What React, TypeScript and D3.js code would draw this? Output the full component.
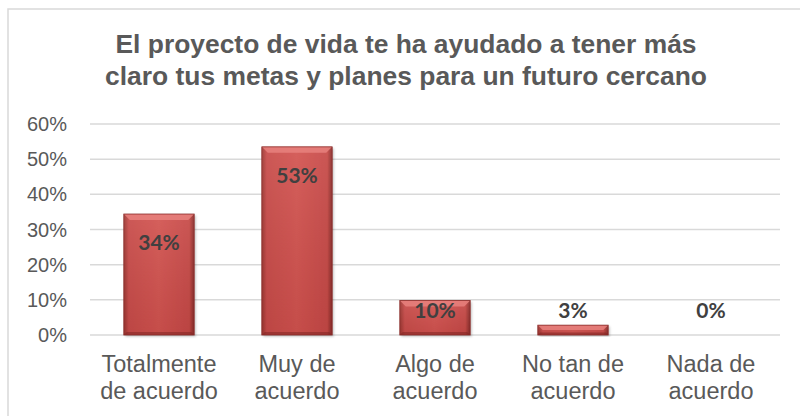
import React from "react";
import * as d3 from "d3";

const categories = [
  ["Totalmente", "de acuerdo"],
  ["Muy de", "acuerdo"],
  ["Algo de", "acuerdo"],
  ["No tan de", "acuerdo"],
  ["Nada de", "acuerdo"],
];
const values = [0.344, 0.535, 0.098, 0.028, 0.0];
const valueLabels = ["34%", "53%", "10%", "3%", "0%"];
const yTicks = [0, 0.1, 0.2, 0.3, 0.4, 0.5, 0.6];
const titleLines = [
  "El proyecto de vida te ha ayudado a tener más",
  "claro tus metas y planes para un futuro cercano",
];

const W = 800;
const H = 416;

export default function App() {
  const x = d3
    .scaleBand<number>()
    .domain(values.map((_, i) => i))
    .range([90, 780])
    .paddingInner(0.49)
    .paddingOuter(0.245);
  const y = d3.scaleLinear().domain([0, 0.6]).range([335, 124]);
  const bw = x.bandwidth();
  const fmt = d3.format(".0%");
  const bev = 6;

  return (
    <svg
      width={W}
      height={H}
      style={{ position: "absolute", left: 0, top: 0, background: "#fff" }}
    >
      <defs>
        <linearGradient id="barH" x1="0" x2="1" y1="0" y2="0">
          <stop offset="0" stopColor="#9a3431" />
          <stop offset="0.07" stopColor="#c84b48" />
          <stop offset="0.5" stopColor="#d2524f" />
          <stop offset="0.93" stopColor="#c64845" />
          <stop offset="1" stopColor="#872b29" />
        </linearGradient>
        <linearGradient id="barV" x1="0" x2="0" y1="0" y2="1">
          <stop offset="0" stopColor="#ffffff" stopOpacity="0.08" />
          <stop offset="1" stopColor="#000000" stopOpacity="0.06" />
        </linearGradient>
        <filter id="shadow" x="-20%" y="-20%" width="140%" height="140%">
          <feDropShadow dx="1.5" dy="1.5" stdDeviation="1.2" floodColor="#000" floodOpacity="0.25" />
        </filter>
      </defs>

      <rect x={8} y={9} width={810} height={430} fill="#fff" stroke="#d9d9d9" strokeWidth={1.5} />

      {titleLines.map((t, i) => (
        <text
          key={i}
          x={406}
          y={53 + i * 32}
          textAnchor="middle"
          fontFamily="'Liberation Sans', Arial, sans-serif"
          fontWeight="bold"
          fontSize={25}
          fill="#595959"
          textLength={i === 0 ? 581 : 602}
          lengthAdjust="spacingAndGlyphs"
        >
          {t}
        </text>
      ))}

      {yTicks.map((t) => (
        <g key={t}>
          <line x1={90} x2={780} y1={y(t)} y2={y(t)} stroke="#d9d9d9" strokeWidth={1.5} />
          <text
            x={67}
            y={y(t) + 7}
            textAnchor="end"
            fontFamily="'Liberation Sans', Arial, sans-serif"
            fontSize={20}
            fill="#595959"
          >
            {fmt(t)}
          </text>
        </g>
      ))}

      {values.map((v, i) => {
        const x0 = x(i)!;
        const y0 = y(v);
        const y1 = y(0);
        const h = y1 - y0;
        if (h <= 0.5) return null;
        const b = Math.min(bev, h / 2);
        return (
          <g key={i}>
            <rect x={x0} y={y0} width={bw} height={h} fill="url(#barH)" filter="url(#shadow)" />
            <rect x={x0} y={y0} width={bw} height={h} fill="url(#barV)" />
            <polygon
              points={`${x0},${y0} ${x0 + bw},${y0} ${x0 + bw - b},${y0 + b} ${x0 + b},${y0 + b}`}
              fill="#e8817e"
              opacity={0.85}
            />
            <polygon
              points={`${x0},${y1} ${x0 + bw},${y1} ${x0 + bw - b * 0.5},${y1 - b * 0.5} ${x0 + b * 0.5},${y1 - b * 0.5}`}
              fill="#7a2220"
              opacity={0.5}
            />
            <rect x={x0} y={y0} width={bw} height={h} fill="none" stroke="#8a2c2a" strokeWidth={0.8} />
          </g>
        );
      })}

      {values.map((v, i) => (
        <text
          key={i}
          x={x(i)! + bw / 2}
          y={Math.min(y(v) + 36, y(0) - 17)}
          textAnchor="middle"
          fontFamily="Lato, 'Open Sans', sans-serif"
          fontWeight="bold"
          fontSize={21}
          fill="#404040"
        >
          {valueLabels[i]}
        </text>
      ))}

      {categories.map((lines, i) =>
        lines.map((l, j) => (
          <text
            key={`${i}-${j}`}
            x={x(i)! + bw / 2}
            y={372 + j * 27}
            textAnchor="middle"
            fontFamily="'Liberation Sans', Arial, sans-serif"
            fontSize={23.5}
            fill="#595959"
          >
            {l}
          </text>
        ))
      )}
    </svg>
  );
}
